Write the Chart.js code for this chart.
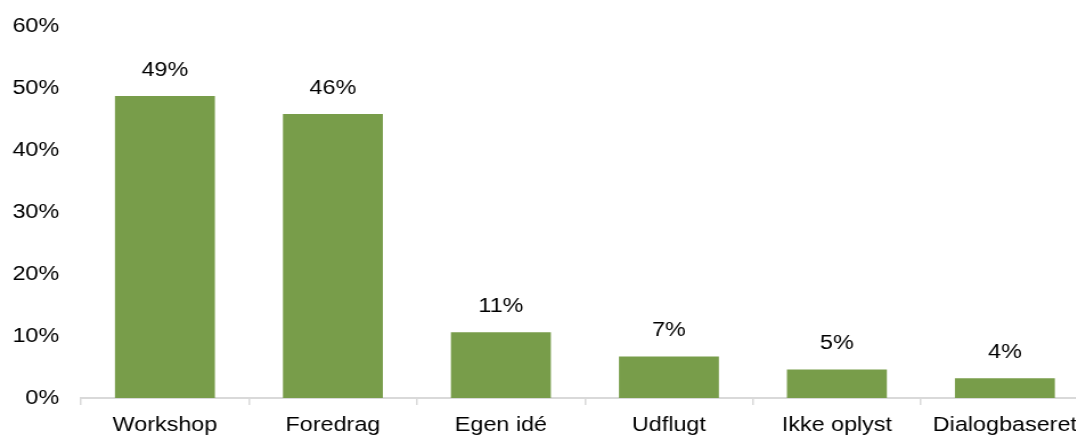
<!DOCTYPE html>
<html>
<head>
<meta charset="utf-8">
<script src="https://cdn.jsdelivr.net/npm/chart.js@4/dist/chart.umd.min.js"></script>
<style>
  html, body { margin: 0; padding: 0; background: #fff; overflow: hidden; width: 1076px; height: 438px; }
</style>
</head>
<body>
<canvas id="c" width="960" height="438" style="display:block;width:1094px;height:438px;"></canvas>
<script>
const categories = ['Workshop', 'Foredrag', 'Egen idé', 'Udflugt', 'Ikke oplyst', 'Dialogbaseret'];
const values = [48.7, 45.8, 10.6, 6.7, 4.6, 3.2];
const valueLabels = ['49%', '46%', '11%', '7%', '5%', '4%'];
const yMin = 0, yMax = 60, yStep = 10;

const FONT = "'Liberation Sans', Arial, sans-serif";
const FS = 20.5;

const dataLabelPlugin = {
  id: 'dataLabels',
  afterDatasetsDraw(chart) {
    const ctx = chart.ctx;
    const meta = chart.getDatasetMeta(0);
    ctx.save();
    ctx.font = FS + 'px ' + FONT;
    ctx.fillStyle = '#000';
    ctx.textAlign = 'center';
    ctx.textBaseline = 'middle';
    meta.data.forEach((bar, i) => {
      ctx.fillText(valueLabels[i], bar.x, bar.y - 26);
    });
    ctx.restore();
  }
};

new Chart(document.getElementById('c'), {
  type: 'bar',
  data: {
    labels: categories,
    datasets: [{
      data: values,
      backgroundColor: '#789D4A',
      borderWidth: 0,
      barPercentage: 0.595,
      categoryPercentage: 1.0
    }]
  },
  options: {
    responsive: false,
    animation: false,
    devicePixelRatio: 1,
    layout: { padding: { top: 26, right: 4.5, bottom: 0, left: 0 } },
    plugins: { legend: { display: false }, tooltip: { enabled: false } },
    scales: {
      x: {
        grid: { display: true, drawOnChartArea: false, drawTicks: true, tickLength: 7, color: '#d9d9d9', lineWidth: 1.5 },
        border: { display: true, color: '#d9d9d9', width: 2 },
        ticks: { color: '#000', font: { family: FONT, size: FS }, padding: 8.5, maxRotation: 0, autoSkip: false },
        afterFit(scale) { scale.height = 40; scale.paddingLeft = 0; scale.paddingRight = 0; }
      },
      y: {
        min: yMin, max: yMax,
        grid: { display: false, drawTicks: false },
        border: { display: false },
        ticks: {
          stepSize: yStep, padding: 19, color: '#000',
          font: { family: FONT, size: FS },
          callback: v => v + '%'
        },
        afterFit(scale) { scale.width = 71; scale.paddingTop = 0; scale.paddingBottom = 0; }
      }
    }
  },
  plugins: [dataLabelPlugin]
});
</script>
</body>
</html>
